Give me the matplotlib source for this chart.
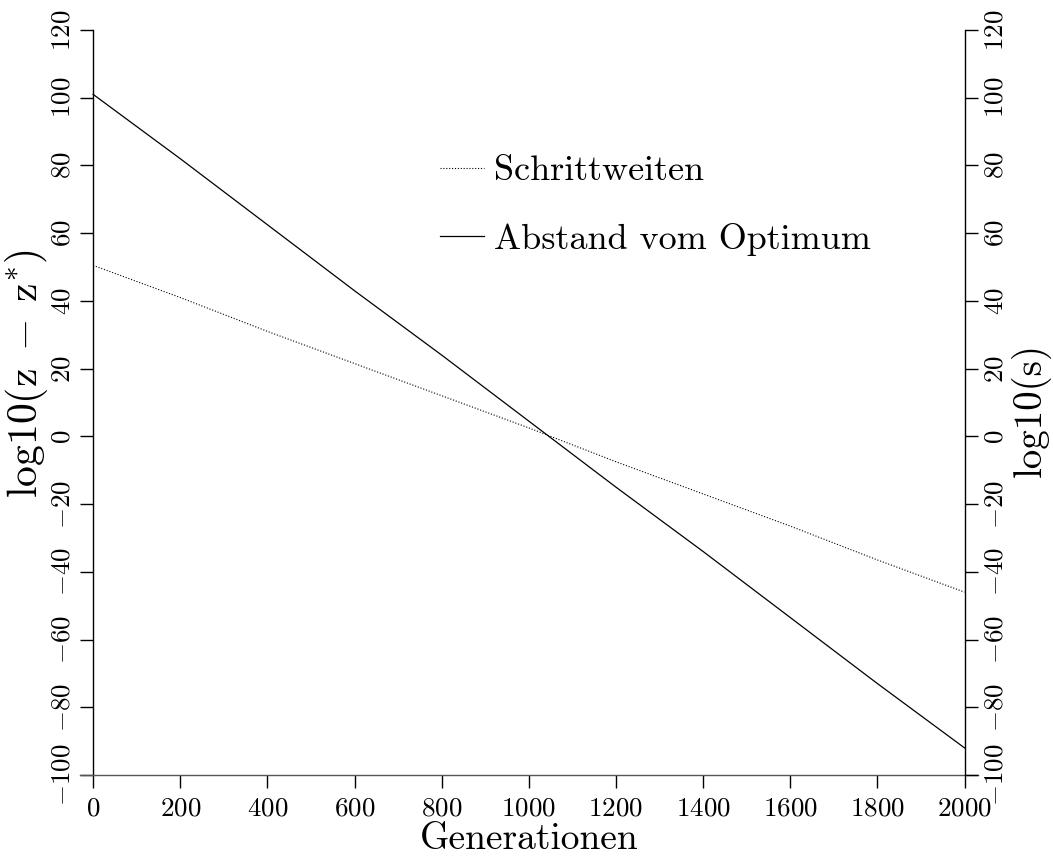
import matplotlib
matplotlib.use("Agg")
import matplotlib.pyplot as plt
from matplotlib.lines import Line2D

plt.rcParams["font.family"] = "cmr10"
plt.rcParams["mathtext.fontset"] = "cm"
plt.rcParams["axes.formatter.use_mathtext"] = True

# Generation counter and log10 values of the two tracked quantities
generations = [0, 200, 400, 600, 800, 1000, 1200, 1400, 1600, 1800, 2000]
step_sizes = [50.5, 41.0, 31.0, 21.5, 12.0, 2.5, -7.5, -17.0, -26.5, -36.5, -46.0]
distance = [101.0, 82.0, 62.5, 43.0, 24.0, 4.5, -15.0, -34.0, -53.5, -73.0, -92.0]

x_ticks = list(range(0, 2001, 200))
y_ticks = list(range(-100, 121, 20))

fig = plt.figure(figsize=(10.53, 8.57), dpi=100)
ax = fig.add_axes([0.0760, 0.0957, 0.8524, 0.8693])
ax.set_xlim(-30, 2030)
ax.set_ylim(-100, 120)

ax.plot(generations, step_sizes, color="black", lw=0.8, ls=(0, (1, 1.6)))
ax.plot(generations, distance, color="black", lw=0.9)

for side in ("top", "right"):
    ax.spines[side].set_visible(False)
ax.spines["left"].set_position(("data", 0))
ax.spines["bottom"].set_color("#555555")
for sp in ax.spines.values():
    sp.set_linewidth(1.0)

ax.set_xticks(x_ticks)
ax.set_yticks(y_ticks)
ax.tick_params(axis="both", direction="out", length=9.5, width=1.0, labelsize=19.5)
ax.tick_params(axis="x", pad=6)
ax.tick_params(axis="y", pad=4)
for lab in ax.get_yticklabels():
    lab.set_rotation(90)
    lab.set_va("center")

ax2 = ax.twinx()
ax2.set_ylim(-100, 120)
for side in ("top", "left", "bottom"):
    ax2.spines[side].set_visible(False)
ax2.spines["right"].set_position(("data", 2000))
ax2.spines["right"].set_linewidth(1.0)
ax2.set_yticks(y_ticks)
ax2.tick_params(axis="y", direction="out", length=9.5, width=1.0, labelsize=19.5, pad=4)
for lab in ax2.get_yticklabels():
    lab.set_rotation(90)
    lab.set_va("center")

ax.set_xlabel("Generationen", fontsize=27, labelpad=2)
ax.set_ylabel(r"$\mathrm{log10(z\;-\;z^{*})}$", fontsize=30)
ax.yaxis.set_label_coords(-0.034, 0.539)
ax2.set_ylabel("log10(s)", fontsize=28)
ax2.yaxis.set_label_coords(1.037, 0.49)

handles = [Line2D([], [], color="black", lw=0.8, ls=(0, (1, 1.6))),
           Line2D([], [], color="black", lw=0.9)]
ax.legend(handles, ["Schrittweiten", "Abstand vom Optimum"], frameon=False,
          fontsize=26, loc="upper left", bbox_to_anchor=(0.401, 0.832),
          borderpad=0, borderaxespad=0,
          handlelength=1.22, handletextpad=0.28, labelspacing=0.98)

fig.savefig("out.png", dpi=100)
